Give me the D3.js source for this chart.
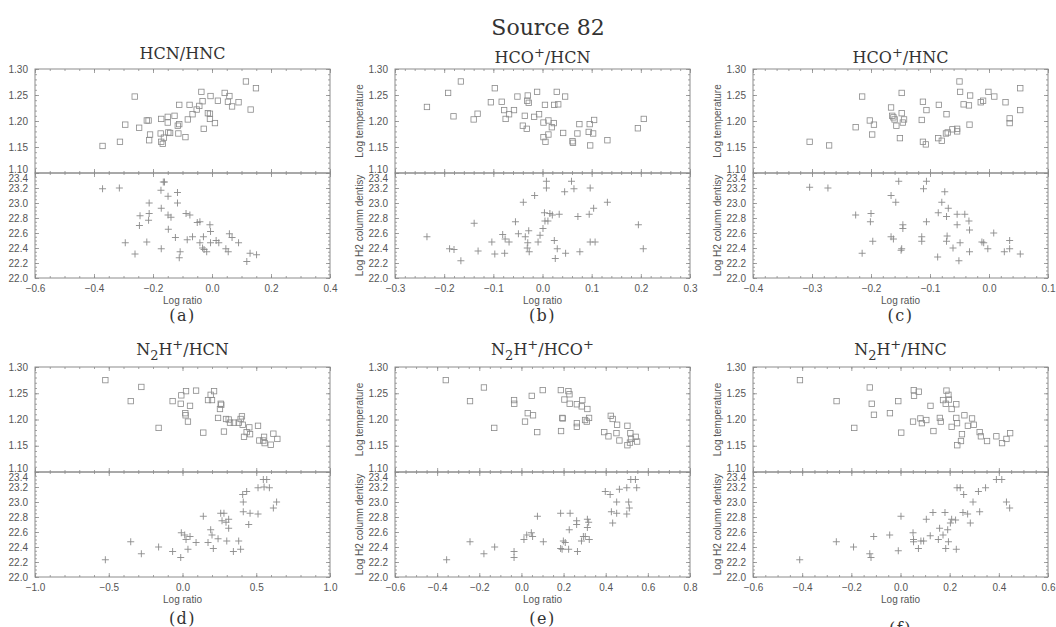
<!DOCTYPE html>
<html><head><meta charset="utf-8">
<script src="https://cdn.jsdelivr.net/npm/d3@7"></script>
<style>body{margin:0;background:#fff}svg{display:block}</style>
</head><body><svg id="chart" width="1056" height="627"></svg>
<script>
// ---------------- data ----------------
const mainTitle = "Source 82";
const titles = ["HCN/HNC","HCO^+/HCN","HCO^+/HNC","N_2H^+/HCN","N_2H^+/HCO^+","N_2H^+/HNC"];
const letters = ["(a)","(b)","(c)","(d)","(e)","(f)"];
const xLabel = "Log ratio";
const tempLabel = "Log temperature";
const densLabel = "Log H2 column dentisy";
const xDomains = [[-0.6,0.4],[-0.3,0.3],[-0.4,0.1],[-1.0,1.0],[-0.6,0.8],[-0.6,0.6]];
const xMajorSteps = [0.2,0.1,0.1,0.5,0.2,0.2];
const xMinorSteps = [0.05,0.02,0.02,0.1,0.05,0.05];
const tempTicks = [1.10,1.15,1.20,1.25,1.30];
const densTicks = [22.0,22.2,22.4,22.6,22.8,23.0,23.2,23.4];

const aTemp = [[-0.371,1.152],[-0.312,1.160],[-0.294,1.193],[-0.262,1.247],[-0.247,1.187],[-0.221,1.201],[-0.215,1.201],[-0.213,1.163],[-0.210,1.174],[-0.172,1.204],[-0.174,1.176],[-0.172,1.160],[-0.167,1.156],[-0.163,1.168],[-0.150,1.208],[-0.150,1.197],[-0.148,1.178],[-0.142,1.177],[-0.127,1.210],[-0.116,1.191],[-0.111,1.194],[-0.111,1.231],[-0.114,1.176],[-0.090,1.169],[-0.082,1.203],[-0.076,1.231],[-0.066,1.213],[-0.052,1.222],[-0.043,1.229],[-0.036,1.256],[-0.032,1.238],[-0.028,1.185],[-0.014,1.215],[-0.007,1.214],[-0.005,1.248],[-0.007,1.204],[0.010,1.196],[0.020,1.239],[0.043,1.254],[0.059,1.248],[0.054,1.237],[0.068,1.228],[0.090,1.236],[0.115,1.276],[0.131,1.222],[0.149,1.263]];
const aDens = [[-0.371,23.19],[-0.314,23.20],[-0.294,22.47],[-0.261,22.32],[-0.246,22.70],[-0.244,22.83],[-0.221,22.48],[-0.215,22.77],[-0.213,22.86],[-0.213,23.00],[-0.173,23.17],[-0.172,22.93],[-0.172,22.39],[-0.165,23.28],[-0.161,23.28],[-0.149,23.09],[-0.149,22.84],[-0.148,22.65],[-0.139,22.81],[-0.124,22.54],[-0.117,23.14],[-0.117,23.00],[-0.108,22.35],[-0.111,22.27],[-0.088,22.86],[-0.075,22.84],[-0.084,22.51],[-0.066,22.55],[-0.050,22.74],[-0.041,22.75],[-0.041,22.47],[-0.029,22.55],[-0.032,22.40],[-0.027,22.38],[-0.018,22.35],[-0.007,22.71],[-0.005,22.62],[-0.005,22.47],[0.014,22.50],[0.023,22.47],[0.047,22.39],[0.055,22.35],[0.059,22.59],[0.068,22.54],[0.090,22.47],[0.118,22.22],[0.129,22.33],[0.151,22.31]];

const bTemp = [[-0.235,1.227],[-0.192,1.254],[-0.166,1.276],[-0.181,1.209],[-0.140,1.203],[-0.132,1.214],[-0.097,1.263],[-0.105,1.236],[-0.083,1.237],[-0.078,1.221],[-0.075,1.204],[-0.068,1.213],[-0.058,1.221],[-0.051,1.247],[-0.030,1.249],[-0.031,1.239],[-0.028,1.235],[-0.036,1.210],[-0.040,1.191],[-0.032,1.185],[-0.011,1.256],[-0.017,1.208],[-0.007,1.213],[0.005,1.231],[0.002,1.197],[0.012,1.201],[0.023,1.196],[0.019,1.188],[0.002,1.169],[0.006,1.160],[0.012,1.174],[0.024,1.231],[0.032,1.232],[0.029,1.256],[0.046,1.247],[0.042,1.177],[0.061,1.161],[0.062,1.158],[0.071,1.176],[0.075,1.194],[0.096,1.194],[0.094,1.179],[0.103,1.176],[0.105,1.202],[0.097,1.153],[0.132,1.163],[0.194,1.186],[0.206,1.204]];
const bDens = [[-0.235,22.55],[-0.189,22.39],[-0.180,22.38],[-0.166,22.23],[-0.139,22.73],[-0.131,22.36],[-0.103,22.48],[-0.097,22.32],[-0.081,22.58],[-0.076,22.52],[-0.077,22.33],[-0.068,22.48],[-0.055,22.75],[-0.049,22.59],[-0.039,23.01],[-0.035,22.55],[-0.031,22.40],[-0.028,22.63],[-0.030,22.47],[-0.027,22.35],[-0.016,23.10],[-0.009,22.48],[-0.005,22.57],[0.001,22.66],[0.004,22.87],[0.005,22.76],[0.008,23.29],[0.008,23.20],[0.011,22.76],[0.015,22.86],[0.020,22.84],[0.024,22.50],[0.026,22.26],[0.030,22.39],[0.034,22.85],[0.045,23.15],[0.047,22.33],[0.059,23.29],[0.064,23.19],[0.072,22.82],[0.076,22.35],[0.095,22.85],[0.097,23.20],[0.097,22.48],[0.104,22.93],[0.107,22.48],[0.132,23.01],[0.195,22.71],[0.205,22.39]];

const cTemp = [[-0.304,1.160],[-0.271,1.153],[-0.226,1.188],[-0.215,1.247],[-0.202,1.201],[-0.195,1.193],[-0.198,1.174],[-0.166,1.226],[-0.164,1.210],[-0.162,1.207],[-0.160,1.203],[-0.157,1.191],[-0.151,1.167],[-0.148,1.254],[-0.148,1.215],[-0.146,1.197],[-0.144,1.203],[-0.114,1.202],[-0.112,1.237],[-0.106,1.221],[-0.112,1.160],[-0.107,1.155],[-0.085,1.231],[-0.086,1.167],[-0.080,1.162],[-0.072,1.213],[-0.073,1.176],[-0.070,1.178],[-0.062,1.184],[-0.054,1.185],[-0.054,1.180],[-0.050,1.276],[-0.049,1.256],[-0.043,1.232],[-0.034,1.230],[-0.032,1.249],[-0.033,1.193],[-0.014,1.236],[-0.010,1.239],[-0.001,1.256],[0.009,1.247],[0.028,1.236],[0.035,1.205],[0.035,1.196],[0.053,1.221],[0.053,1.263]];
const cDens = [[-0.304,23.21],[-0.273,23.20],[-0.226,22.84],[-0.215,22.33],[-0.201,22.75],[-0.200,22.86],[-0.197,22.49],[-0.166,23.10],[-0.166,22.55],[-0.162,22.52],[-0.158,23.01],[-0.153,23.29],[-0.149,22.37],[-0.148,22.39],[-0.146,22.71],[-0.146,22.66],[-0.114,22.55],[-0.114,22.49],[-0.111,23.19],[-0.106,23.29],[-0.106,22.75],[-0.087,22.28],[-0.086,22.87],[-0.080,23.01],[-0.075,23.15],[-0.072,22.82],[-0.071,22.56],[-0.072,22.49],[-0.069,22.93],[-0.061,22.40],[-0.054,22.85],[-0.054,22.71],[-0.051,22.23],[-0.049,22.47],[-0.041,22.85],[-0.034,22.76],[-0.033,22.64],[-0.033,22.35],[-0.012,22.48],[-0.009,22.47],[-0.002,22.39],[0.008,22.60],[0.026,22.35],[0.035,22.50],[0.035,22.39],[0.053,22.32]];

const dTemp = [[-0.523,1.275],[-0.351,1.235],[-0.279,1.262],[-0.162,1.184],[-0.067,1.235],[-0.012,1.230],[-0.008,1.246],[0.019,1.212],[0.021,1.208],[0.024,1.254],[0.037,1.196],[0.051,1.226],[0.092,1.255],[0.141,1.175],[0.173,1.237],[0.191,1.247],[0.200,1.237],[0.214,1.254],[0.241,1.203],[0.254,1.220],[0.259,1.230],[0.263,1.228],[0.281,1.177],[0.295,1.201],[0.313,1.200],[0.322,1.194],[0.349,1.194],[0.381,1.194],[0.394,1.201],[0.403,1.206],[0.408,1.190],[0.417,1.167],[0.435,1.176],[0.453,1.185],[0.458,1.172],[0.512,1.188],[0.521,1.160],[0.548,1.160],[0.553,1.167],[0.557,1.155],[0.598,1.152],[0.616,1.173],[0.643,1.163]];
const dDens = [[-0.523,22.23],[-0.351,22.47],[-0.279,22.31],[-0.162,22.40],[-0.067,22.34],[-0.012,22.26],[-0.008,22.59],[0.015,22.56],[0.024,22.50],[0.037,22.37],[0.051,22.54],[0.092,22.46],[0.141,22.81],[0.173,22.46],[0.191,22.63],[0.200,22.56],[0.209,22.38],[0.241,22.51],[0.259,22.85],[0.268,22.75],[0.281,22.85],[0.295,22.73],[0.300,22.48],[0.313,22.77],[0.313,22.65],[0.345,22.34],[0.381,22.48],[0.394,22.37],[0.408,23.10],[0.412,23.00],[0.412,22.87],[0.435,23.14],[0.449,22.70],[0.458,22.85],[0.512,23.19],[0.512,22.84],[0.548,23.30],[0.553,23.20],[0.571,23.30],[0.589,23.19],[0.616,22.92],[0.638,23.00]];

const eTemp = [[-0.359,1.275],[-0.178,1.261],[-0.244,1.235],[-0.129,1.184],[-0.035,1.237],[-0.034,1.230],[0.049,1.245],[0.101,1.256],[0.030,1.212],[0.055,1.208],[0.017,1.196],[0.075,1.176],[0.187,1.256],[0.223,1.254],[0.228,1.248],[0.204,1.238],[0.229,1.230],[0.194,1.203],[0.196,1.202],[0.188,1.178],[0.263,1.229],[0.289,1.237],[0.286,1.225],[0.313,1.220],[0.263,1.193],[0.263,1.186],[0.302,1.199],[0.310,1.196],[0.321,1.203],[0.424,1.207],[0.433,1.201],[0.454,1.190],[0.503,1.188],[0.393,1.176],[0.413,1.168],[0.451,1.174],[0.465,1.160],[0.517,1.174],[0.520,1.163],[0.542,1.167],[0.549,1.158],[0.503,1.151],[0.515,1.156]];
const eDens = [[-0.355,22.23],[-0.244,22.47],[-0.178,22.31],[-0.127,22.40],[-0.035,22.34],[-0.035,22.26],[0.012,22.50],[0.025,22.56],[0.047,22.59],[0.053,22.54],[0.076,22.81],[0.104,22.47],[0.186,22.85],[0.186,22.38],[0.193,22.37],[0.199,22.48],[0.208,22.46],[0.224,22.37],[0.227,22.63],[0.231,22.85],[0.262,22.75],[0.262,22.70],[0.266,22.34],[0.285,22.48],[0.294,22.54],[0.303,22.54],[0.313,22.77],[0.313,22.66],[0.319,22.73],[0.322,22.50],[0.398,23.14],[0.421,23.10],[0.427,22.87],[0.433,22.72],[0.452,23.00],[0.452,22.85],[0.465,23.17],[0.500,23.19],[0.500,22.84],[0.509,23.00],[0.512,22.92],[0.519,23.30],[0.541,23.30],[0.547,23.19]];

const fTemp = [[-0.409,1.275],[-0.260,1.235],[-0.188,1.184],[-0.125,1.261],[-0.117,1.230],[-0.108,1.209],[-0.043,1.212],[-0.009,1.235],[0.003,1.175],[0.054,1.256],[0.055,1.245],[0.074,1.253],[0.051,1.196],[0.081,1.202],[0.087,1.193],[0.105,1.199],[0.122,1.226],[0.134,1.178],[0.160,1.203],[0.164,1.196],[0.187,1.255],[0.195,1.247],[0.197,1.238],[0.173,1.237],[0.184,1.230],[0.208,1.220],[0.227,1.229],[0.227,1.203],[0.230,1.193],[0.208,1.186],[0.260,1.208],[0.291,1.202],[0.274,1.188],[0.298,1.190],[0.250,1.172],[0.246,1.159],[0.231,1.151],[0.322,1.176],[0.327,1.168],[0.352,1.159],[0.390,1.168],[0.413,1.155],[0.431,1.163],[0.446,1.174]];
const fDens = [[-0.410,22.23],[-0.261,22.47],[-0.191,22.40],[-0.125,22.31],[-0.120,22.26],[-0.109,22.54],[-0.044,22.56],[-0.009,22.35],[0.002,22.81],[0.051,22.59],[0.053,22.50],[0.053,22.47],[0.073,22.38],[0.083,22.48],[0.094,22.48],[0.105,22.77],[0.121,22.55],[0.132,22.86],[0.154,22.50],[0.159,22.65],[0.173,22.56],[0.181,22.86],[0.184,22.38],[0.192,22.63],[0.195,22.47],[0.203,22.72],[0.208,22.77],[0.224,22.76],[0.227,22.37],[0.230,23.19],[0.243,23.19],[0.257,23.10],[0.254,22.86],[0.273,22.84],[0.284,22.72],[0.295,23.00],[0.317,23.14],[0.322,22.87],[0.346,23.19],[0.390,23.30],[0.412,23.30],[0.431,23.00],[0.444,22.92]];

const tempSets = [aTemp,bTemp,cTemp,dTemp,eTemp,fTemp];
const densSets = [aDens,bDens,cDens,dDens,eDens,fDens];

// ---------------- layout ----------------
const colLeft = [35, 395, 753];
const plotW = 295;
const rows = [{top:69, mid:173, bot:278, title:[59,63,63], letter:[321,321,321]},
              {top:367, mid:472, bot:577, title:[355,355,355], letter:[624,624,634]}];
const frameColor = "#8c8c8c";
const textColor = "#555";
const markColor = "#8a8a8a";
const sans = "'Liberation Sans', Arial, sans-serif";
const serif = "'DejaVu Serif', serif";

const svg = d3.select("#chart");
svg.append("rect").attr("width",1056).attr("height",627).attr("fill","#fff");

svg.append("text").attr("x",548).attr("y",35).attr("text-anchor","middle")
  .attr("font-family",serif).attr("font-size",22).attr("fill","#333").text(mainTitle);

function rangeTicks(lo, hi, step){
  const a = Math.round(lo/step), b = Math.round(hi/step);
  return d3.range(a, b+1).map(i => +(i*step).toFixed(6));
}
const fmtSigned = (d, n) => (d < -1e-9 ? "\u2212" : "") + Math.abs(d).toFixed(n);

function styleAxis(g){
  g.select(".domain").remove();
  g.selectAll(".tick line").attr("stroke",frameColor).attr("stroke-width",0.8);
  g.selectAll(".tick text").attr("fill",textColor).attr("font-family",sans).attr("font-size",10);
}

function drawTitle(str, cx, y){
  const t = svg.append("text").attr("x",cx).attr("y",y).attr("text-anchor","middle")
    .attr("font-family",serif).attr("font-size",16).attr("fill","#333");
  let shift = 0;
  for (let i = 0; i < str.length; i++){
    const ch = str[i];
    if (ch === "^" || ch === "_"){
      const s = str[++i];
      const d = ch === "^" ? -6 : 5;
      t.append("tspan").attr("dy", d - shift).attr("font-size",13).text(s);
      shift = d;
    } else {
      t.append("tspan").attr("dy", -shift).text(ch);
      shift = 0;
    }
  }
}

function drawSub(g, x, y, yTop, yBot, x0, x1, major, minor, yMajor, yMinor, fmtY, showX, xFmt, isTop){
  const mk = (axis, tr, ticks, size) => {
    const a = g.append("g").attr("transform",tr).call(axis.tickValues(ticks).tickSize(size).tickSizeOuter(0).tickFormat(""));
    styleAxis(a); return a;
  };
  mk(d3.axisBottom(x), `translate(0,${yBot})`, minor, -2);
  mk(d3.axisTop(x), `translate(0,${yTop})`, minor, -2);
  mk(d3.axisTop(x), `translate(0,${yTop})`, major, -4);
  mk(d3.axisLeft(y), `translate(${x0},0)`, yMinor, -2);
  mk(d3.axisRight(y), `translate(${x1},0)`, yMinor, -2);
  mk(d3.axisRight(y), `translate(${x1},0)`, yMajor, -4);
  const bx = g.append("g").attr("transform",`translate(0,${yBot})`)
    .call(d3.axisBottom(x).tickValues(major).tickSize(-4).tickSizeOuter(0).tickPadding(7)
      .tickFormat(showX ? xFmt : ""));
  styleAxis(bx);
  const ly = g.append("g").attr("transform",`translate(${x0},0)`)
    .call(d3.axisLeft(y).tickValues(yMajor).tickSize(-4).tickSizeOuter(0).tickPadding(7).tickFormat(fmtY));
  styleAxis(ly);
  if (isTop){
    ly.selectAll(".tick text").filter(d => Math.abs(d-1.10) < 1e-6).attr("dy","-0.06em");
  } else {
    ly.selectAll(".tick text").filter(d => Math.abs(d-23.4) < 1e-6).attr("dy","0.8em");
  }
  g.append("rect").attr("x",x0).attr("y",yTop).attr("width",x1-x0).attr("height",yBot-yTop)
    .attr("fill","none").attr("stroke",frameColor).attr("stroke-width",1);
}

for (let i = 0; i < 6; i++){
  const col = i % 3, row = rows[Math.floor(i/3)];
  const x0 = colLeft[col], x1 = x0 + plotW;
  const g = svg.append("g");
  const x = d3.scaleLinear().domain(xDomains[i]).range([x0, x1]);
  const yT = d3.scaleLinear().domain([tempTicks[0], tempTicks[tempTicks.length-1]]).range([row.mid, row.top]);
  const yN = d3.scaleLinear().domain([densTicks[0], densTicks[densTicks.length-1]]).range([row.bot, row.mid]);
  const xMaj = rangeTicks(xDomains[i][0], xDomains[i][1], xMajorSteps[i]);
  const xMin = rangeTicks(xDomains[i][0], xDomains[i][1], xMinorSteps[i]);
  const tMin = rangeTicks(1.10, 1.30, 0.01);
  const nMin = rangeTicks(22.0, 23.4, 0.05);
  const xFmt = d => fmtSigned(d, 1);

  drawSub(g, x, yT, row.top, row.mid, x0, x1, xMaj, xMin, tempTicks, tMin, d => d.toFixed(2), false, xFmt, true);
  drawSub(g, x, yN, row.mid, row.bot, x0, x1, xMaj, xMin, densTicks, nMin, d => d.toFixed(1), true, xFmt, false);

  g.append("g").selectAll("rect").data(tempSets[i]).join("rect")
    .attr("x", d => x(d[0]) - 2.7).attr("y", d => yT(d[1]) - 2.7)
    .attr("width",5.4).attr("height",5.4)
    .attr("fill","none").attr("stroke",markColor).attr("stroke-width",0.8);
  g.append("g").selectAll("path").data(densSets[i]).join("path")
    .attr("transform", d => `translate(${x(d[0])},${yN(d[1])})`)
    .attr("d","M-3.5,0H3.5M0,-3.5V3.5")
    .attr("fill","none").attr("stroke",markColor).attr("stroke-width",0.9);

  svg.append("text").attr("x",(x0+x1)/2).attr("y",row.bot+26).attr("text-anchor","middle")
    .attr("font-family",sans).attr("font-size",10).attr("fill",textColor).text(xLabel);
  if (col > 0){
    const lx = x0 - 32;
    svg.append("text").attr("transform",`translate(${lx},${(row.top+row.mid)/2}) rotate(-90)`)
      .attr("text-anchor","middle").attr("font-family",sans).attr("font-size",10).attr("fill",textColor).text(tempLabel);
    svg.append("text").attr("transform",`translate(${lx},${(row.mid+row.bot)/2}) rotate(-90)`)
      .attr("text-anchor","middle").attr("font-family",sans).attr("font-size",10).attr("fill",textColor).text(densLabel);
  }
  drawTitle(titles[i], (x0+x1)/2, row.title[col]);
  svg.append("text").attr("x",(x0+x1)/2).attr("y",row.letter[col]).attr("text-anchor","middle")
    .attr("font-family",serif).attr("font-size",16).attr("letter-spacing",1.5).attr("fill","#333").text(letters[i]);
}
</script></body></html>
